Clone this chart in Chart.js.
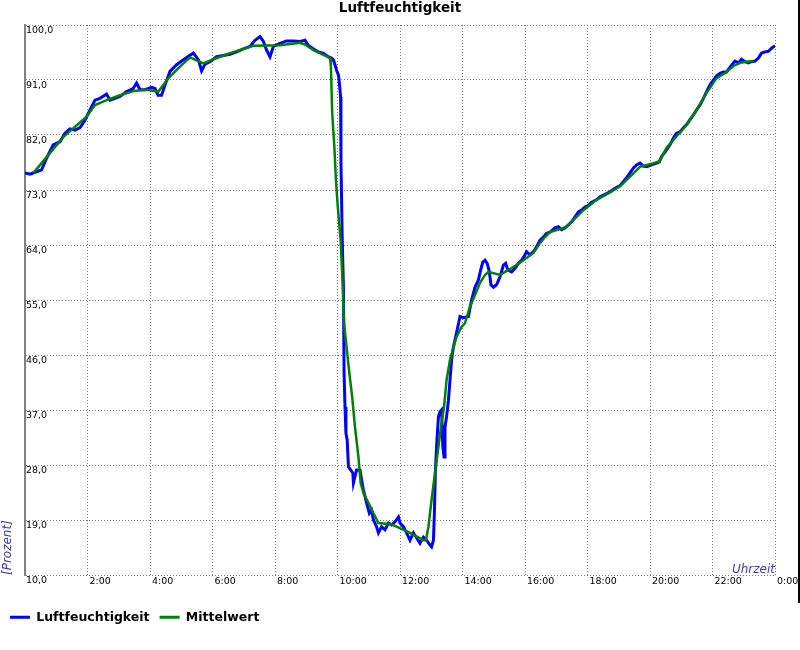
<!DOCTYPE html>
<html>
<head>
<meta charset="utf-8">
<script src="https://cdn.jsdelivr.net/npm/chart.js@4.4.1/dist/chart.umd.min.js"></script>
<style>
  html, body { margin: 0; padding: 0; background: #ffffff; }
  #wrap { position: relative; width: 800px; height: 650px; }
  #c { display: block; }
  #edge { position: absolute; left: 798px; top: 0; width: 2px; height: 603px; background: #000; }
</style>
</head>
<body>
<div id="wrap">
  <canvas id="c" width="800" height="650"></canvas>
  <div id="edge"></div>
</div>
<script>
// ---- data (hours since midnight, relative humidity in %) ----
const humidityHours = [
  0.00, 0.16, 0.32, 0.53, 0.69, 0.90, 1.12, 1.28, 1.44, 1.60, 1.76, 1.92,
  2.08, 2.24, 2.40, 2.61, 2.72, 2.88, 3.04, 3.25, 3.46, 3.57, 3.68, 3.84,
  4.05, 4.16, 4.26, 4.37, 4.48, 4.64, 4.85, 5.07, 5.23, 5.39, 5.55, 5.65,
  5.76, 5.92, 6.13, 6.35, 6.56, 6.77, 6.99, 7.20, 7.36, 7.52, 7.63, 7.73,
  7.84, 7.95, 8.16, 8.37, 8.59, 8.80, 8.96, 9.06, 9.22, 9.38, 9.54, 9.70,
  9.81, 9.87, 9.92, 9.97, 10.03, 10.06, 10.10, 10.11, 10.15, 10.19, 10.21, 10.24,
  10.27, 10.31, 10.35, 10.42, 10.49, 10.51, 10.61, 10.72, 10.77, 10.83, 10.93, 11.02,
  11.09, 11.15, 11.25, 11.31, 11.41, 11.52, 11.63, 11.73, 11.84, 11.95, 12.00, 12.11,
  12.21, 12.32, 12.43, 12.53, 12.64, 12.75, 12.85, 12.96, 13.01, 13.07, 13.10, 13.13,
  13.17, 13.23, 13.28, 13.33, 13.37, 13.41, 13.44, 13.49, 13.55, 13.60, 13.65, 13.71,
  13.76, 13.83, 13.92, 14.03, 14.19, 14.29, 14.40, 14.51, 14.58, 14.65, 14.72, 14.79,
  14.86, 14.91, 14.99, 15.09, 15.20, 15.31, 15.38, 15.45, 15.57, 15.68, 15.79, 15.89,
  16.00, 16.05, 16.16, 16.27, 16.37, 16.48, 16.59, 16.69, 16.80, 16.96, 17.07, 17.17,
  17.28, 17.39, 17.49, 17.60, 17.71, 17.81, 17.92, 18.03, 18.13, 18.29, 18.40, 18.56,
  18.72, 18.88, 19.04, 19.25, 19.36, 19.47, 19.57, 19.68, 19.79, 19.89, 20.05, 20.21,
  20.30, 20.37, 20.48, 20.64, 20.75, 20.85, 20.96, 21.07, 21.17, 21.28, 21.39, 21.49,
  21.60, 21.71, 21.81, 21.92, 22.03, 22.13, 22.24, 22.35, 22.45, 22.56, 22.67, 22.72,
  22.83, 22.93, 23.04, 23.15, 23.25, 23.36, 23.47, 23.57, 23.68, 23.79, 23.89, 24.00
];
const humidityValues = [
  75.8, 75.6, 75.9, 76.3, 78.2, 80.4, 80.9, 82.3, 83.0, 82.8, 83.2, 84.4,
  86.1, 87.7, 88.0, 88.7, 87.7, 88.0, 88.3, 89.1, 89.6, 90.5, 89.4, 89.4,
  89.8, 89.6, 88.5, 88.5, 90.2, 92.4, 93.5, 94.3, 94.9, 95.4, 94.3, 92.5,
  93.6, 94.0, 94.8, 95.0, 95.2, 95.6, 96.1, 96.5, 97.5, 98.1, 97.3, 95.9,
  94.8, 96.5, 97.0, 97.4, 97.4, 97.3, 97.5, 96.7, 96.1, 95.6, 95.4, 94.8,
  94.6, 94.3, 93.5, 92.6, 91.8, 90.5, 88.2, 77.9, 65.3, 57.0, 43.0, 37.5,
  33.2, 32.1, 27.7, 27.2, 26.7, 25.1, 27.2, 27.2, 25.6, 23.9, 21.8, 20.1,
  20.6, 19.0, 17.9, 16.9, 17.9, 17.4, 18.5, 18.2, 18.7, 19.5, 18.5, 17.9,
  16.9, 15.7, 16.9, 16.1, 15.2, 16.2, 15.7, 14.9, 14.6, 15.7, 20.1, 26.7,
  31.0, 35.9, 36.7, 37.0, 31.0, 29.3, 34.2, 35.9, 38.6, 41.9, 45.2, 47.3,
  48.5, 50.1, 52.3, 52.1, 52.3, 55.0, 57.1, 58.3, 59.9, 61.2, 61.5, 61.0,
  59.6, 57.5, 57.1, 57.5, 58.8, 60.7, 61.0, 59.9, 59.6, 60.2, 61.0, 61.5,
  62.4, 62.9, 62.4, 62.9, 63.7, 64.8, 65.3, 65.9, 66.1, 66.8, 67.0, 66.5,
  66.8, 67.3, 67.8, 68.6, 69.4, 69.7, 70.2, 70.5, 71.0, 71.4, 71.9, 72.3,
  72.7, 73.3, 73.7, 75.0, 75.8, 76.6, 77.1, 77.4, 76.9, 76.8, 77.1, 77.4,
  77.6, 78.5, 79.2, 80.4, 81.5, 82.3, 82.5, 83.2, 83.7, 84.5, 85.3, 86.1,
  86.9, 88.0, 89.1, 90.2, 91.0, 91.7, 92.1, 92.3, 92.3, 93.1, 93.8, 94.1,
  93.8, 94.4, 94.0, 93.8, 94.0, 94.1, 94.6, 95.4, 95.6, 95.7, 96.2, 96.6
];
const meanHours = [
  0.27, 1.23, 1.97, 2.24, 2.61, 3.04, 3.47, 3.89, 4.27, 4.59, 4.96, 5.28,
  5.71, 6.03, 6.56, 7.31, 8.16, 8.80, 8.96, 9.23, 9.55, 9.76, 9.79, 9.83,
  9.90, 9.95, 10.01, 10.10, 10.15, 10.21, 10.29, 10.38, 10.47, 10.56, 10.67, 10.74,
  10.83, 10.99, 11.15, 11.31, 11.73, 11.89, 12.32, 12.75, 12.83, 12.91, 13.01, 13.12,
  13.23, 13.33, 13.41, 13.49, 13.60, 13.71, 13.81, 13.97, 14.08, 14.24, 14.40, 14.56,
  14.72, 14.83, 15.20, 15.36, 15.63, 15.95, 16.27, 16.48, 16.64, 16.80, 17.12, 17.33,
  17.55, 17.87, 18.29, 18.72, 19.04, 19.36, 19.68, 20.11, 20.30, 20.53, 20.85, 21.17,
  21.49, 21.81, 22.13, 22.45, 22.67, 22.88, 23.09, 23.31
];
const meanValues = [
  75.8, 81.7, 85.0, 86.9, 87.7, 88.5, 89.2, 89.4, 89.1, 91.3, 93.2, 94.7,
  93.7, 94.4, 95.4, 96.6, 96.7, 97.1, 96.8, 95.9, 95.1, 94.6, 93.2, 85.6,
  80.0, 74.6, 70.2, 64.8, 59.4, 51.2, 47.3, 43.0, 39.1, 34.2, 29.3, 25.1,
  23.4, 21.8, 20.1, 18.5, 18.3, 17.9, 16.9, 15.7, 15.7, 17.9, 22.3, 26.7,
  31.0, 34.9, 37.5, 41.9, 45.2, 47.3, 49.0, 50.6, 51.2, 53.9, 55.8, 57.8,
  59.1, 59.6, 59.1, 59.6, 60.4, 61.5, 62.7, 64.3, 65.3, 66.1, 66.6, 67.0,
  68.1, 69.7, 71.4, 72.6, 73.6, 75.2, 76.8, 77.4, 77.7, 79.9, 81.8, 83.6,
  86.1, 88.9, 91.3, 92.3, 93.3, 93.8, 94.0, 94.1
];
const timeLabels = ['', '2:00', '4:00', '6:00', '8:00', '10:00', '12:00',
                    '14:00', '16:00', '18:00', '20:00', '22:00', '0:00'];
const yTickLabels = ['10,0', '19,0', '28,0', '37,0', '46,0', '55,0',
                     '64,0', '73,0', '82,0', '91,0', '100,0'];
const seriesNames = ['Luftfeuchtigkeit', 'Mittelwert'];

// ---- chart ----
Chart.defaults.font.family = '"DejaVu Sans", sans-serif';

const toPoints = (xs, ys) => xs.map((x, i) => ({ x: x, y: ys[i] }));

const captionPlugin = {
  id: 'xCaption',
  afterDatasetsDraw(chart) {
    const { ctx, chartArea } = chart;
    ctx.save();
    ctx.font = 'italic 12px "DejaVu Sans"';
    ctx.fillStyle = '#3a3aa8';
    ctx.textAlign = 'right';
    ctx.textBaseline = 'alphabetic';
    ctx.fillText('Uhrzeit', chartArea.right, chartArea.bottom - 2.5);
    ctx.restore();
  }
};

new Chart(document.getElementById('c'), {
  type: 'line',
  data: {
    datasets: [
      {
        label: seriesNames[0],
        data: toPoints(humidityHours, humidityValues),
        borderColor: '#0000ff',
        backgroundColor: '#0000ff',
        borderWidth: 3,
        pointRadius: 0,
        tension: 0,
        order: 1
      },
      {
        label: seriesNames[1],
        data: toPoints(meanHours, meanValues),
        borderColor: '#008000',
        backgroundColor: '#008000',
        borderWidth: 2.5,
        pointRadius: 0,
        tension: 0,
        order: 0
      }
    ]
  },
  options: {
    responsive: false,
    animation: false,
    devicePixelRatio: 1,
    events: [],
    layout: { padding: { left: 0, right: 0, top: 0, bottom: 16.5 } },
    plugins: {
      tooltip: { enabled: false },
      title: {
        display: true,
        text: 'Luftfeuchtigkeit',
        color: '#000000',
        font: { size: 13.5, weight: 'bold' },
        padding: { top: 0.8, bottom: 8 }
      },
      legend: {
        position: 'bottom',
        align: 'start',
        labels: {
          boxWidth: 20,
          boxHeight: 3,
          padding: 10,
          color: '#000000',
          font: { size: 12.5, weight: 'bold' },
          sort: (a, b) => a.datasetIndex - b.datasetIndex,
          generateLabels(chart) {
            const items = Chart.defaults.plugins.legend.labels.generateLabels(chart);
            items.forEach(it => { it.lineWidth = 0; });
            return items;
          }
        }
      }
    },
    scales: {
      x: {
        type: 'linear',
        min: 0,
        max: 24,
        ticks: {
          stepSize: 2,
          autoSkip: false,
          maxRotation: 0,
          align: 'start',
          labelOffset: 2,
          padding: 1,
          color: '#000000',
          font: { size: 9.5 },
          callback: (v, i) => timeLabels[i]
        },
        grid: { color: '#777777', lineWidth: 1, drawTicks: false },
        border: { display: false, dash: [1, 2] },
        afterFit(s) { s.height = 26; s.paddingLeft = 0; s.paddingRight = 25; }
      },
      y: {
        type: 'linear',
        min: 10,
        max: 100,
        ticks: {
          stepSize: 9,
          mirror: true,
          padding: 1,
          labelOffset: 5.5,
          color: '#000000',
          font: { size: 9.5 },
          callback: (v, i) => yTickLabels[i]
        },
        grid: { color: '#777777', lineWidth: 1, drawTicks: false },
        border: { display: true, color: '#808080', width: 2, dash: [1, 2] },
        title: {
          display: true,
          text: '[Prozent]',
          align: 'start',
          color: '#3a3aa8',
          font: { size: 12, style: 'italic' },
          padding: { top: 1, bottom: 0 }
        },
        afterFit(s) { s.width = 25; s.paddingTop = 0; s.paddingBottom = 0; }
      }
    }
  },
  plugins: [captionPlugin]
});
</script>
</body>
</html>
